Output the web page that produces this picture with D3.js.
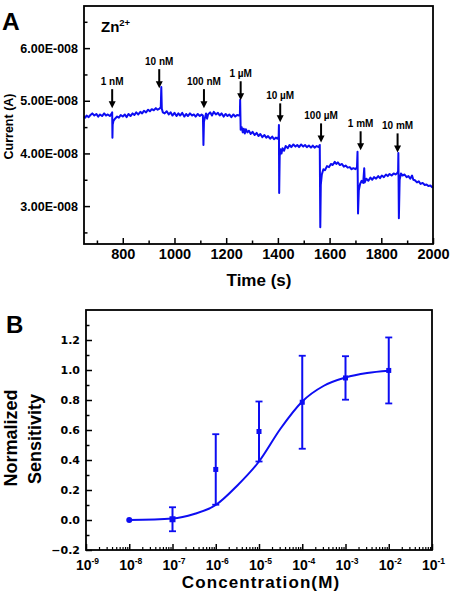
<!DOCTYPE html>
<html><head><meta charset="utf-8">
<script src="https://cdn.jsdelivr.net/npm/d3@7"></script>
<style>body{margin:0;background:#fff}svg{display:block}text{font-family:"Liberation Sans",Arial,sans-serif;font-weight:bold;fill:#000}</style>
</head><body>
<script>
// ---------- Panel A data (current in units of 1e-8 A) ----------
const traceTime = [650,655,660,668,675,682,690,698,705,712,720,728,735,742,750,756,759,760,761,764,770,778,785,792,800,808,815,822,830,838,845,852,860,868,875,882,890,898,905,912,920,928,935,942,947,949,951,955,962,970,978,985,992,1000,1008,1015,1022,1030,1038,1045,1052,1060,1068,1075,1082,1090,1098,1105,1110,1112,1114,1118,1122,1126,1130,1138,1145,1152,1160,1168,1175,1182,1190,1198,1205,1212,1220,1228,1235,1242,1250,1253,1254,1256,1260,1264,1268,1272,1276,1282,1288,1295,1302,1310,1318,1325,1332,1340,1348,1355,1362,1370,1378,1385,1392,1398,1403,1404,1405,1407,1410,1414,1418,1424,1430,1438,1445,1452,1460,1468,1475,1482,1490,1498,1505,1512,1520,1528,1535,1542,1550,1558,1562,1564,1566,1570,1576,1582,1590,1598,1605,1612,1620,1626,1632,1640,1648,1655,1662,1670,1678,1685,1692,1700,1706,1708,1710,1713,1718,1724,1730,1734,1736,1742,1750,1758,1765,1772,1780,1788,1795,1802,1810,1818,1825,1832,1840,1848,1855,1862,1865,1866,1868,1871,1876,1882,1890,1898,1905,1912,1919,1924,1930,1938,1945,1952,1960,1968,1975,1982,1990,1996,2000];
const traceCurrent = [4.70,4.68,4.72,4.69,4.73,4.76,4.72,4.75,4.70,4.74,4.71,4.76,4.72,4.74,4.71,4.75,4.78,4.30,4.55,4.62,4.66,4.70,4.68,4.73,4.70,4.74,4.69,4.75,4.71,4.76,4.73,4.78,4.74,4.79,4.76,4.81,4.78,4.83,4.80,4.84,4.82,4.86,4.83,4.85,4.88,5.26,4.85,4.78,4.76,4.80,4.74,4.78,4.72,4.77,4.71,4.76,4.72,4.77,4.70,4.75,4.71,4.76,4.72,4.74,4.70,4.75,4.71,4.74,4.72,4.16,4.60,4.68,4.76,4.66,4.74,4.78,4.72,4.79,4.74,4.77,4.72,4.76,4.70,4.75,4.71,4.74,4.69,4.74,4.70,4.73,4.72,4.74,5.02,4.45,4.50,4.40,4.47,4.38,4.46,4.40,4.43,4.37,4.41,4.35,4.39,4.33,4.37,4.31,4.35,4.30,4.33,4.28,4.32,4.27,4.30,4.28,4.32,4.54,3.25,3.95,4.08,4.00,4.10,4.05,4.14,4.10,4.16,4.12,4.17,4.13,4.16,4.12,4.17,4.13,4.16,4.12,4.15,4.11,4.15,4.11,4.14,4.12,4.16,2.60,3.40,3.60,3.70,3.68,3.76,3.74,3.80,3.78,3.84,3.80,3.83,3.78,3.80,3.75,3.77,3.73,3.74,3.70,3.72,3.70,3.74,4.03,2.86,3.30,3.42,3.48,3.44,3.72,3.45,3.52,3.48,3.54,3.50,3.55,3.52,3.57,3.53,3.58,3.55,3.60,3.57,3.61,3.58,3.62,3.60,3.63,3.66,4.01,2.77,3.50,3.62,3.58,3.60,3.55,3.57,3.52,3.58,3.50,3.49,3.45,3.47,3.42,3.44,3.40,3.41,3.38,3.39,3.36,3.37];
const eventLabels = ["1 nM","10 nM","100 nM","1 \u00b5M","10 \u00b5M","100 \u00b5M","1 mM","10 mM"];
const eventTimes = [759,941,1114,1256,1409,1567,1720,1863];
const arrowTipCurrent = [4.86,5.24,4.86,5.01,4.59,4.21,4.06,4.02];
const timeTicks = [800,1000,1200,1400,1600,1800,2000];
const timeMinorTicks = [700,900,1100,1300,1500,1700,1900];
const currentTicks = [3,4,5,6];
const currentMinorTicks = [2.5,3.5,4.5,5.5,6.5];

// ---------- Panel B data ----------
const concentrations = [1e-8,1e-7,1e-6,1e-5,1e-4,1e-3,1e-2];
const sensitivity = [0,0.005,0.337,0.59,0.785,0.947,0.997];
const sensError = [0,0.08,0.235,0.20,0.31,0.145,0.22];
const fitLogConc = [-8,-7,-6.5,-6,-5.5,-5,-4.5,-4,-3.5,-3,-2.5,-2];
const fitSensitivity = [0.0,0.01,0.04,0.10,0.23,0.39,0.61,0.79,0.895,0.95,0.98,0.995];
const concTickExponents = [-9,-8,-7,-6,-5,-4,-3,-2,-1];
const sensTicks = [-0.2,0,0.2,0.4,0.6,0.8,1.0,1.2];
const sensMinorTicks = [-0.1,0.1,0.3,0.5,0.7,0.9,1.1,1.3];

const W = 457, H = 608, BLUE = "#0d0df2";
const svg = d3.select("body").append("svg").attr("width", W).attr("height", H);

// ================= Panel A =================
const A = {l:84, r:433, t:6, b:244};
const xA = d3.scaleLinear().domain([650,2000]).range([A.l, A.r]);
const yA = d3.scaleLinear().domain([2.28,6.8]).range([A.b, A.t]);
const gA = svg.append("g");

gA.append("g").attr("transform",`translate(0,${A.b})`)
  .call(d3.axisBottom(xA).tickValues(timeTicks).tickSizeInner(-6).tickSizeOuter(0).tickPadding(5).tickFormat(d3.format("d")))
  .call(g=>{g.select(".domain").remove(); g.selectAll("line").attr("stroke-width",1.5);
    g.selectAll("text").style("font-size","14.5px").style("font-family","Liberation Sans, Arial, sans-serif").style("font-weight","bold");});
gA.append("g").attr("transform",`translate(0,${A.b})`)
  .call(d3.axisBottom(xA).tickValues(timeMinorTicks).tickSizeInner(-3.5).tickSizeOuter(0).tickFormat(""))
  .call(g=>{g.select(".domain").remove(); g.selectAll("line").attr("stroke-width",1.5);});
gA.append("g").attr("transform",`translate(${A.l},0)`)
  .call(d3.axisLeft(yA).tickValues(currentTicks).tickSizeInner(-6).tickSizeOuter(0).tickPadding(6)
    .tickFormat(d=>d.toFixed(2)+"E-008"))
  .call(g=>{g.select(".domain").remove(); g.selectAll("line").attr("stroke-width",1.5);
    g.selectAll("text").style("font-size","12.5px").style("font-family","Liberation Sans, Arial, sans-serif").style("font-weight","bold");});
gA.append("g").attr("transform",`translate(${A.l},0)`)
  .call(d3.axisLeft(yA).tickValues(currentMinorTicks).tickSizeInner(-3.5).tickSizeOuter(0).tickFormat(""))
  .call(g=>{g.select(".domain").remove(); g.selectAll("line").attr("stroke-width",1.5);});

const trace = traceTime.map((t,i)=>[t,traceCurrent[i]]);
gA.append("path").datum(trace)
  .attr("d", d3.line().x(d=>xA(d[0])).y(d=>yA(d[1])))
  .attr("fill","none").attr("stroke",BLUE).attr("stroke-width",2).attr("stroke-linejoin","round");

gA.append("rect").attr("x",A.l).attr("y",A.t).attr("width",A.r-A.l).attr("height",A.b-A.t)
  .attr("fill","none").attr("stroke","#000").attr("stroke-width",1.8);

eventLabels.forEach((lab,i)=>{
  const x = xA(eventTimes[i]), tip = yA(arrowTipCurrent[i]);
  gA.append("line").attr("x1",x).attr("x2",x).attr("y1",tip-19).attr("y2",tip-5)
    .attr("stroke","#000").attr("stroke-width",2);
  gA.append("path").attr("d",`M${x-3.5},${tip-7}L${x+3.5},${tip-7}L${x},${tip}Z`).attr("fill","#000");
  gA.append("text").attr("x",x).attr("y",tip-23).attr("text-anchor","middle").style("font-size","10px").text(lab);
});

gA.append("text").attr("x",101).attr("y",31.5).style("font-size","15px")
  .text("Zn").append("tspan").style("font-size","9.5px").attr("dy",-5.5).text("2+");
gA.append("text").attr("x",2).attr("y",29.5).style("font-size","24.5px").text("A");
gA.append("text").attr("x",259).attr("y",286).attr("text-anchor","middle").style("font-size","17px").text("Time (s)");
gA.append("text").attr("transform","translate(13,126.5) rotate(-90)").attr("text-anchor","middle")
  .style("font-size","12.5px").text("Current (A)");

// ================= Panel B =================
const B = {l:86, r:432, t:310, b:550};
const xB = d3.scaleLog().domain([1e-9,1e-1]).range([B.l, B.r]);
const yB = d3.scaleLinear().domain([-0.2,1.4]).range([B.b, B.t]);
const gB = svg.append("g");

const majorConc = concTickExponents.map(e=>Math.pow(10,e));
const minorConc = [];
concTickExponents.slice(0,-1).forEach(e=>{for(let m=2;m<=9;m++) minorConc.push(m*Math.pow(10,e));});

gB.append("g").attr("transform",`translate(0,${B.b})`)
  .call(d3.axisBottom(xB).tickValues(majorConc).tickSizeInner(-6).tickSizeOuter(0).tickFormat(""))
  .call(g=>{g.select(".domain").remove(); g.selectAll("line").attr("stroke-width",1.5);});
gB.append("g").attr("transform",`translate(0,${B.b})`)
  .call(d3.axisBottom(xB).tickValues(minorConc).tickSizeInner(-3).tickSizeOuter(0).tickFormat(""))
  .call(g=>{g.select(".domain").remove(); g.selectAll("line").attr("stroke-width",1.2);});
concTickExponents.forEach(e=>{
  const t = gB.append("text").attr("x",xB(Math.pow(10,e))+1.5).attr("y",570).attr("text-anchor","middle")
    .style("font-size","14px").attr("fill","#222").text("10");
  t.append("tspan").style("font-size","8.5px").attr("dy",-6.5).text(String(e));
});

gB.append("g").attr("transform",`translate(${B.l},0)`)
  .call(d3.axisLeft(yB).tickValues(sensTicks).tickSizeInner(-6).tickSizeOuter(0).tickPadding(6)
    .tickFormat(d=>d3.format(".1f")(d)))
  .call(g=>{g.select(".domain").remove(); g.selectAll("line").attr("stroke-width",1.5);
    g.selectAll("text").style("font-size","11px").style("font-family","DejaVu Sans, sans-serif").style("font-weight","bold");});
gB.append("g").attr("transform",`translate(${B.l},0)`)
  .call(d3.axisLeft(yB).tickValues(sensMinorTicks).tickSizeInner(-3.5).tickSizeOuter(0).tickFormat(""))
  .call(g=>{g.select(".domain").remove(); g.selectAll("line").attr("stroke-width",1.5);});

// fit curve
const fit = fitLogConc.map((lc,i)=>[Math.pow(10,lc), fitSensitivity[i]]);
gB.append("path").datum(fit)
  .attr("d", d3.line().curve(d3.curveMonotoneX).x(d=>xB(d[0])).y(d=>yB(d[1])))
  .attr("fill","none").attr("stroke",BLUE).attr("stroke-width",2);

// error bars and markers
concentrations.forEach((c,i)=>{
  const x = xB(c), e = sensError[i], v = sensitivity[i];
  if (e > 0) {
    gB.append("line").attr("x1",x).attr("x2",x).attr("y1",yB(v+e)).attr("y2",yB(v-e))
      .attr("stroke",BLUE).attr("stroke-width",2);
    [v+e, v-e].forEach(yv=>gB.append("line").attr("x1",x-3.5).attr("x2",x+3.5)
      .attr("y1",yB(yv)).attr("y2",yB(yv)).attr("stroke",BLUE).attr("stroke-width",1.8));
  }
  if (i===0) gB.append("circle").attr("cx",x).attr("cy",yB(v)).attr("r",3).attr("fill",BLUE);
  else { const s = i===1?6:5; gB.append("rect").attr("x",x-s/2).attr("y",yB(v)-s/2).attr("width",s).attr("height",s).attr("fill",BLUE); }
});

gB.append("rect").attr("x",B.l).attr("y",B.t).attr("width",B.r-B.l).attr("height",B.b-B.t)
  .attr("fill","none").attr("stroke","#000").attr("stroke-width",1.8);

gB.append("text").attr("x",6).attr("y",333).style("font-size","24px").text("B");
gB.append("text").attr("x",261).attr("y",588).attr("text-anchor","middle").style("font-size","17px")
  .attr("letter-spacing",1.1).text("Concentration(M)");
gB.append("text").attr("transform","translate(17.3,438) rotate(-90)").attr("text-anchor","middle")
  .style("font-size","18px").text("Normalized");
gB.append("text").attr("transform","translate(40.7,439) rotate(-90)").attr("text-anchor","middle")
  .style("font-size","18px").text("Sensitivity");
</script>
</body></html>
